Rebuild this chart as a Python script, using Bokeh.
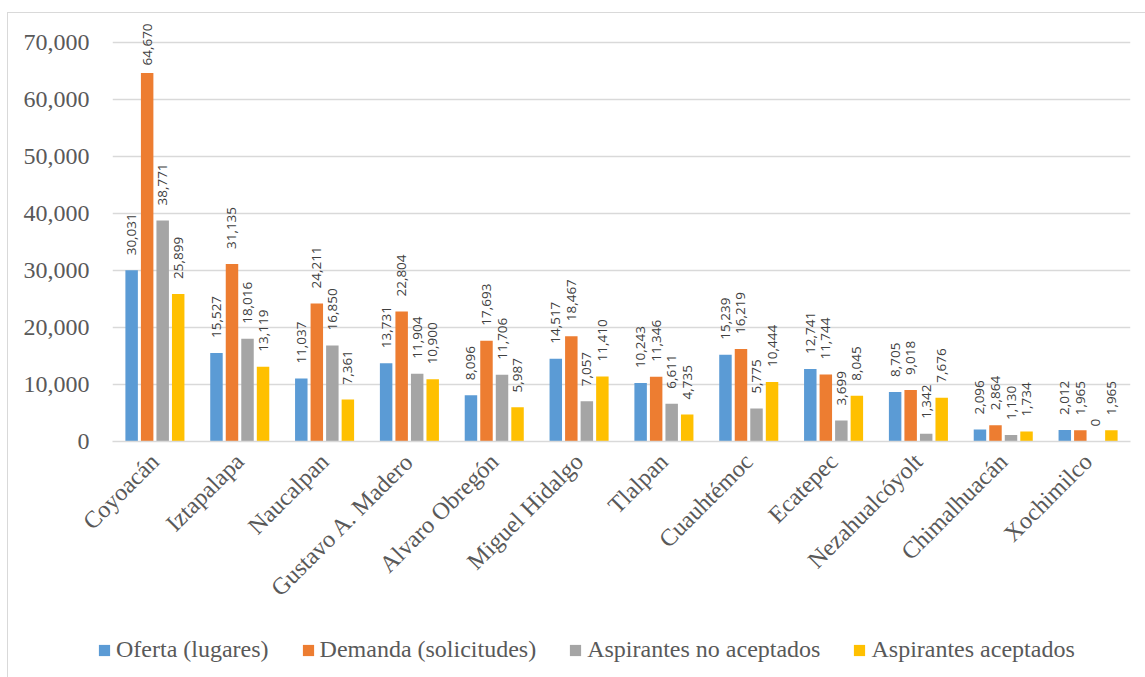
import math
from bokeh.plotting import figure
from bokeh.layouts import column
from bokeh.models import (ColumnDataSource, LabelSet, FixedTicker, NumeralTickFormatter,
                          Range1d, FactorRange, Legend, LegendItem)
from bokeh.core.properties import value
from bokeh.transform import dodge
from bokeh.embed import file_html
from bokeh.resources import INLINE

municipios = ["Coyoacán", "Iztapalapa", "Naucalpan", "Gustavo A. Madero", "Alvaro Obregón",
              "Miguel Hidalgo", "Tlalpan", "Cuauhtémoc", "Ecatepec", "Nezahualcóyolt",
              "Chimalhuacán", "Xochimilco"]
oferta = [30031, 15527, 11037, 13731, 8096, 14517, 10243, 15239, 12741, 8705, 2096, 2012]
demanda = [64670, 31135, 24211, 22804, 17693, 18467, 11346, 16219, 11744, 9018, 2864, 1965]
no_aceptados = [38771, 18016, 16850, 11904, 11706, 7057, 6611, 5775, 3699, 1342, 1130, 0]
aceptados = [25899, 13119, 7361, 10900, 5987, 11410, 4735, 10444, 8045, 7676, 1734, 1965]

series = [
    ("oferta", oferta, "Oferta (lugares)", "#5B9BD5"),
    ("demanda", demanda, "Demanda (solicitudes)", "#ED7D31"),
    ("no_aceptados", no_aceptados, "Aspirantes no aceptados", "#A5A5A5"),
    ("aceptados", aceptados, "Aspirantes aceptados", "#FFC000"),
]

SERIF = "Liberation Serif"
GREY_TEXT = "#595959"
GRID = "#d9d9d9"

Y_MAX = 73684          # a little headroom above the 70,000 gridline
FRAME_H = 420          # plot frame height in px
PX_PER_UNIT = FRAME_H / Y_MAX
LABEL_GAP = 15         # px between bar top and its value label
LABEL_LEN = 42         # approximate length of a rotated "00,000" label in px

data = {"municipio": municipios}
for key, vals, _, _ in series:
    data[key] = vals
    data[key + "_txt"] = [f"{v:,}" for v in vals]
    # keep value labels inside the plot area, pushing the tallest ones down
    data[key + "_off"] = [min(LABEL_GAP, FRAME_H - 2 - LABEL_LEN - v * PX_PER_UNIT) for v in vals]
source = ColumnDataSource(data)

p = figure(
    x_range=FactorRange(*municipios, range_padding=0),
    y_range=Range1d(0, Y_MAX),
    width=1137, height=600,
    output_backend="svg", toolbar_location=None,
    min_border_left=104, min_border_right=15, min_border_top=8, min_border_bottom=172,
)
p.outline_line_color = None

step = 0.183
bar_w = 0.147
for i, (key, vals, name, color) in enumerate(series):
    off = (i - 1.5) * step
    p.vbar(x=dodge("municipio", off, range=p.x_range), top=key, width=bar_w,
           source=source, color=color, line_color=None)
    labels = LabelSet(x=dodge("municipio", off, range=p.x_range), y=key, text=key + "_txt",
                      source=source, angle=math.pi / 2, text_align="left",
                      text_baseline="middle", y_offset=key + "_off",
                      text_font=value("Open Sans"), text_font_size=value("13.5px"),
                      text_color="#404040")
    p.add_layout(labels)

# axes
p.yaxis.ticker = FixedTicker(ticks=list(range(0, 70001, 10000)))
p.yaxis.formatter = NumeralTickFormatter(format="0,0")
p.yaxis.axis_line_color = None
p.yaxis.major_tick_line_color = None
p.yaxis.minor_tick_line_color = None
p.yaxis.major_label_text_font = SERIF
p.yaxis.major_label_text_font_size = "24px"
p.yaxis.major_label_text_color = GREY_TEXT
p.yaxis.major_label_standoff = 17

p.xaxis.axis_line_color = GRID
p.xaxis.axis_line_width = 1.5
p.xaxis.major_tick_line_color = None
p.xaxis.minor_tick_line_color = None
p.xaxis.major_label_orientation = math.pi / 4
p.xaxis.major_label_text_font = SERIF
p.xaxis.major_label_text_font_size = "24px"
p.xaxis.major_label_text_color = GREY_TEXT
p.xaxis.major_label_standoff = 10

p.xgrid.grid_line_color = None
p.ygrid.grid_line_color = GRID
p.ygrid.grid_line_width = 1.5

# legend strip below the chart
pl = figure(
    x_range=p.x_range, y_range=Range1d(0, 1),
    width=1137, height=64,
    output_backend="svg", toolbar_location=None,
    min_border_left=0, min_border_right=0, min_border_top=0, min_border_bottom=0,
    x_axis_location=None, y_axis_location=None,
)
pl.frame_align = False
pl.outline_line_color = None
pl.grid.visible = False
items = []
for i, (key, vals, name, color) in enumerate(series):
    off = (i - 1.5) * step
    r = pl.vbar(x=dodge("municipio", off, range=p.x_range), top=key, width=bar_w,
                source=source, color=color, line_color=None, visible=False)
    items.append(LegendItem(label=name, renderers=[r]))

leg = Legend(items=items, orientation="horizontal", location=(89, 14))
leg.border_line_color = None
leg.background_fill_alpha = 0
leg.inactive_fill_alpha = 0
leg.padding = 0
leg.margin = 0
leg.spacing = 32
leg.glyph_width = 14
leg.glyph_height = 14
leg.label_standoff = 5
leg.label_text_font = SERIF
leg.label_text_font_size = "24px"
leg.label_text_color = GREY_TEXT
pl.add_layout(leg)

page = column(p, pl, spacing=0)
page.styles = {"margin-left": "7px", "margin-top": "12px",
               "border-left": "1px solid #d9d9d9", "border-top": "1px solid #d9d9d9"}

open("out.html", "w").write(file_html(page, INLINE))
